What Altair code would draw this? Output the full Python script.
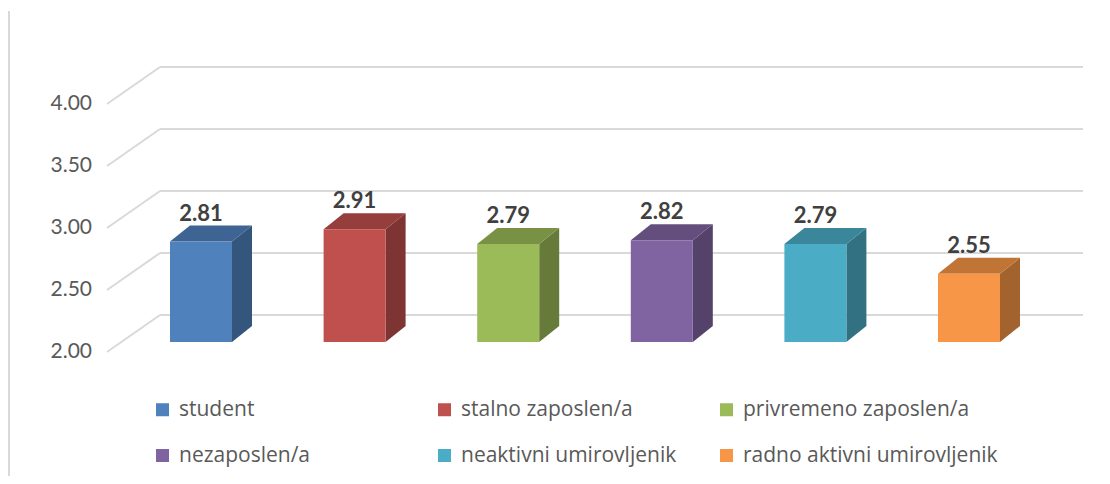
import altair as alt
import pandas as pd

# ---- data ----
categories = ["student", "stalno zaposlen/a", "privremeno zaposlen/a",
              "nezaposlen/a", "neaktivni umirovljenik", "radno aktivni umirovljenik"]
values = [2.81, 2.91, 2.79, 2.82, 2.79, 2.55]
colors = ["#4F81BD", "#C0504D", "#9BBB59", "#8064A2", "#4BACC6", "#F79646"]
ticks = [2.0, 2.5, 3.0, 3.5, 4.0]
base = 2.0

# ---- geometry (style) ----
W, H = 1094, 468
XDOM = [-1.0547, 6.0677]          # category-slot units
YDOM = [0.919, 4.694]             # value units (bar plane)
px_x = W / (XDOM[1] - XDOM[0])
px_y = H / (YDOM[1] - YDOM[0])
bw = 62 / px_x                    # front face width
ddx = 20 / px_x                   # depth offset x
ddy = 16 / px_y                   # depth offset y
back_dy = 27 / px_y               # back wall shift
front_dy = -10 / px_y             # axis plane shift
back_x0, back_x1 = -10 / px_x, 913 / px_x
front_x0 = -63 / px_x
label_x = -78 / px_x


def shade(hexc, f):
    h = hexc.lstrip("#")
    r, g, b = (int(h[i:i + 2], 16) for i in (0, 2, 4))
    return "#%02x%02x%02x" % (int(r * f), int(g * f), int(b * f))


bars = pd.DataFrame({
    "cat": categories, "val": values,
    "x0": list(range(len(categories))),
})
bars["x1"] = bars["x0"] + bw
bars["base"] = base
bars["label"] = [f"{v:.2f}" for v in values]

side_rows, top_rows = [], []
for i, (c, v, col) in enumerate(zip(categories, values, colors)):
    for k in (0, 1):
        side_rows.append({"cat": c, "x": i + bw + k * ddx, "yt": v + k * ddy,
                          "yb": base + k * ddy, "fill": shade(col, 0.66)})
        top_rows.append({"cat": c, "y": v + k * ddy, "xl": i + k * ddx,
                         "xr": i + bw + k * ddx, "fill": shade(col, 0.78)})
side = pd.DataFrame(side_rows)
top = pd.DataFrame(top_rows)

grid = pd.DataFrame({"t": ticks})
grid["yb"] = grid["t"] + back_dy
grid["yf"] = grid["t"] + front_dy
grid["xb0"] = back_x0
grid["xb1"] = back_x1
grid["xf"] = front_x0
grid["lx"] = label_x
grid["lab"] = [f"{t:.2f}" for t in ticks]

xs = alt.Scale(domain=XDOM, nice=False, zero=False)
ys = alt.Scale(domain=YDOM, nice=False, zero=False)
NX = dict(axis=None, scale=xs)
NY = dict(axis=None, scale=ys)

back_lines = alt.Chart(grid).mark_rule(color="#d9d9d9", strokeWidth=2).encode(
    x=alt.X("xb0:Q", **NX), x2="xb1:Q", y=alt.Y("yb:Q", **NY))
diag_lines = alt.Chart(grid).mark_rule(color="#d9d9d9", strokeWidth=2).encode(
    x=alt.X("xf:Q", **NX), x2="xb0:Q", y=alt.Y("yf:Q", **NY), y2="yb:Q")
ylabels = alt.Chart(grid).mark_text(align="right", baseline="middle", font="Lato",
                                    fontSize=21, color="#595959").encode(
    x=alt.X("lx:Q", **NX), y=alt.Y("yf:Q", **NY), text="lab:N")

front = alt.Chart(bars).mark_rect().encode(
    x=alt.X("x0:Q", **NX), x2="x1:Q",
    y=alt.Y("base:Q", **NY), y2="val:Q",
    color=alt.Color("cat:N", sort=categories,
                    scale=alt.Scale(domain=categories, range=colors),
                    legend=alt.Legend(
                        title=None, orient="none", direction="horizontal",
                        columns=3, gridAlign="all", legendX=144, legendY=391,
                        symbolType="square", symbolSize=169, symbolStrokeWidth=0,
                        symbolOpacity=1, labelFont="Open Sans", labelFontSize=21,
                        labelColor="#595959", labelLimit=400, labelOffset=6,
                        columnPadding=0, rowPadding=24, padding=0)))
side_faces = alt.Chart(side).mark_area(orient="vertical").encode(
    x=alt.X("x:Q", **NX), y=alt.Y("yt:Q", **NY), y2="yb:Q",
    detail="cat:N", fill=alt.Fill("fill:N", scale=None))
top_faces = alt.Chart(top).mark_area(orient="horizontal").encode(
    y=alt.Y("y:Q", **NY), x=alt.X("xl:Q", **NX), x2="xr:Q",
    detail="cat:N", fill=alt.Fill("fill:N", scale=None))
vlabels = alt.Chart(bars).mark_text(align="center", baseline="alphabetic", dy=-21,
                                    font="Lato", fontSize=22, fontWeight="bold",
                                    color="#404040").encode(
    x=alt.X("xc:Q", **NX), y=alt.Y("val:Q", **NY), text="label:N"
).transform_calculate(xc=f"datum.x0 + {bw/2}")

border = alt.Chart(grid).mark_rule(color="#d9d9d9", strokeWidth=2).encode(
    x=alt.value(1), y=alt.value(3), y2=alt.value(H + 8))

chart = alt.layer(border, back_lines, diag_lines, ylabels, side_faces, top_faces,
                  front, vlabels).properties(
    width=W, height=H, autosize=alt.AutoSizeParams(type="none"), padding=0
).configure_view(stroke=None)

chart.save("out.html", embed_options={"renderer": "svg", "actions": False})
